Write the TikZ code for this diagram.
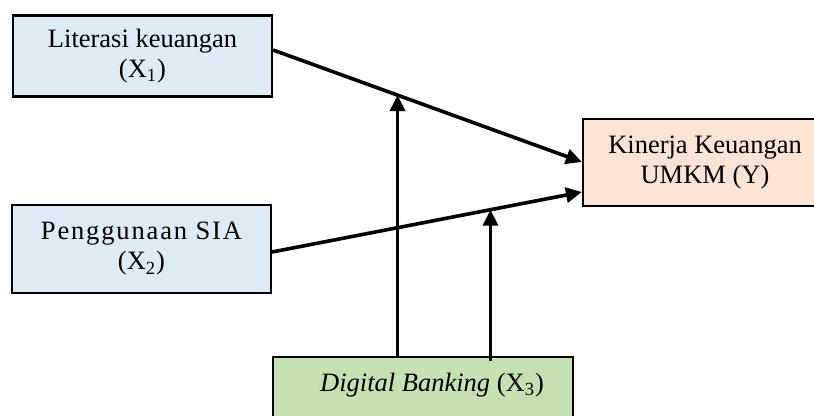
\documentclass[tikz,border=0pt]{standalone}
\usepackage{fontspec}
\setmainfont{Liberation Serif}
\usetikzlibrary{arrows.meta,calc}
\definecolor{blueF}{HTML}{DEEAF6}
\definecolor{peachF}{HTML}{FBE4D5}
\definecolor{greenF}{HTML}{C5E0B3}
\begin{document}
\begin{tikzpicture}[x=0.5pt,y=-0.5pt,
  box/.style={draw=black,line width=1.1pt,inner sep=0pt,align=center,font=\fontsize{13.25}{15}\selectfont},
  txt/.style={inner sep=0pt,align=center,font=\fontsize{13.25}{15}\selectfont},
  conn/.style={line width=1.8pt,-{Triangle[length=8pt,width=7.5pt]}}]
\useasboundingbox (0,0) rectangle (814,416);
\clip (0,0) rectangle (814,416);
\node[box,fill=blueF,minimum width=129.5pt,minimum height=40.5pt] (x1) at (142.5,56) {Literasi keuangan\\(X\textsubscript{1})};
\node[box,fill=blueF,minimum width=129.5pt,minimum height=44pt] (x2) at (141.5,249) {{\addfontfeature{LetterSpace=7}Penggunaan SIA}\\(X\textsubscript{2})};
\node[box,fill=peachF,minimum width=122pt,minimum height=43.5pt] (y) at (705,162.5) {Kinerja Keuangan\\UMKM (Y)};
\node[box,fill=greenF,minimum width=150pt,minimum height=36.5pt] (x3) at (423,393.5) {};
\node[txt] (x3t) at (432,385) {\textit{Digital Banking} (X\textsubscript{3})};
\coordinate (a1s) at ($(x1.east)+(0,-6)$);
\coordinate (a1e) at ($(y.west)+(0,-0.5)$);
\coordinate (a2s) at ($(x2.east)+(0,3)$);
\coordinate (a2e) at ($(y.west)+(0,29.5)$);
\draw[conn] (a1s) -- (a1e);
\draw[conn] (a2s) -- (a2e);
\coordinate (m1) at ($(a1s)!0.403!(a1e)$);
\coordinate (m2) at ($(a2s)!0.705!(a2e)$);
\draw[conn] (m1 |- x3.north) -- (m1);
\draw[conn] ($(m2 |- x3.north)+(0,5)$) -- (m2);
\end{tikzpicture}
\end{document}
